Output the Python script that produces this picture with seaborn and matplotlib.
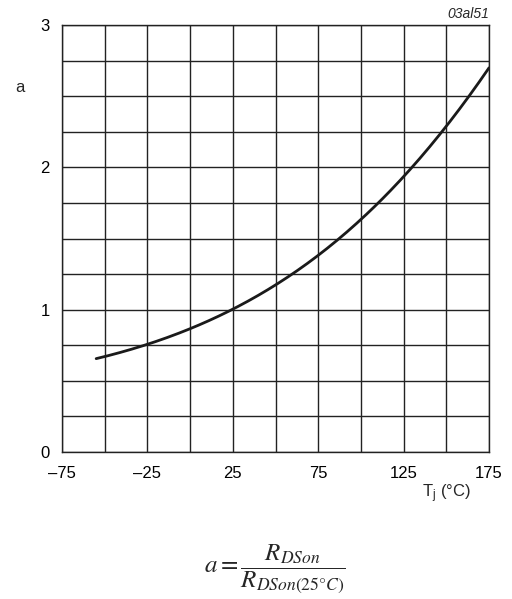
import matplotlib
matplotlib.use("Agg")
import matplotlib.pyplot as plt
import seaborn as sns
import pandas as pd
import numpy as np

temps = [-55, -50, -25, 0, 25, 50, 75, 100, 125, 150, 175]
a_vals = [0.65, 0.675, 0.76, 0.87, 1.0, 1.17, 1.37, 1.65, 1.93, 2.30, 2.69]
x_tick_vals = [-75, -25, 25, 75, 125, 175]
x_tick_labels = ["\u201375", "\u201325", "25", "75", "125", "175"]
y_tick_vals = [0, 1, 2, 3]

sns.set_theme(style="white")
plt.rcParams['font.family'] = ['Liberation Sans', 'DejaVu Sans']
plt.rcParams['mathtext.fontset'] = 'stix'

df = pd.DataFrame({"T": temps, "a": a_vals})
fig = plt.figure(figsize=(5.12, 5.99), dpi=100)
ax = fig.add_axes([62/512, 1-452/599, (489-62)/512, (452-25)/599])

# grid
for xv in np.arange(-75, 176, 25):
    ax.axvline(xv, color="#222222", lw=1.0, zorder=1)
for yv in np.arange(0, 3.01, 0.25):
    ax.axhline(yv, color="#222222", lw=1.0, zorder=1)

# smooth curve through read points
coef = np.polyfit(df["T"], np.log(df["a"]), 3)
xs = np.linspace(-55, 175, 200)
ys = np.exp(np.polyval(coef, xs))
sns.lineplot(x=xs, y=ys, ax=ax, color="#1a1a1a", lw=2.0, zorder=3)

ax.set_xlim(-75, 175)
ax.set_ylim(0, 3)
ax.set_xticks(x_tick_vals)
ax.set_xticklabels(x_tick_labels)
ax.set_yticks(y_tick_vals)
ax.tick_params(axis='both', length=0, labelsize=12, colors="black")
ax.tick_params(axis='x', pad=10)
ax.tick_params(axis='y', pad=9)
ax.set_xlabel("")
ax.set_ylabel("")
for s in ax.spines.values():
    s.set_color("#222222")
    s.set_linewidth(1.0)

fig.text(20/512, 1-88/599, "a", fontsize=12, ha="center", va="center")
fig.text(447/512, 1-494/599, "T$_\\mathregular{j}$ (°C)", fontsize=12, ha="center", va="center")
fig.text(489/512, 1-14/599, "03al51", fontsize=10, style="italic", ha="right", va="center")
fig.text(275/512, 1-569/599, r"$a = \dfrac{R_{DSon}}{R_{DSon(25°C)}}$", fontsize=18, ha="center", va="center")

fig.savefig("out.png", dpi=100, facecolor="white")
